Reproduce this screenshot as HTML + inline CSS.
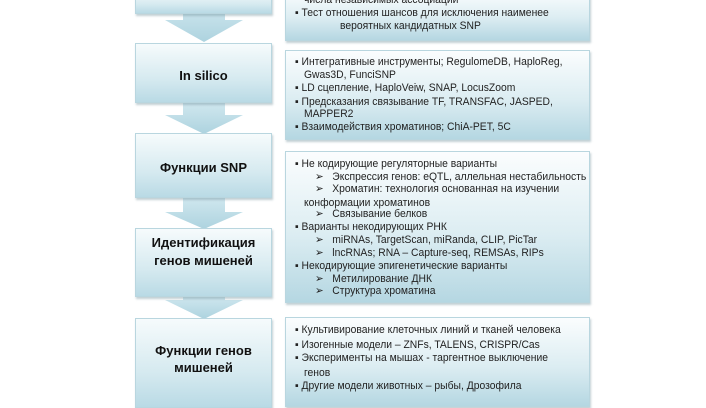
<!DOCTYPE html>
<html><head><meta charset="utf-8"><style>
body{margin:0;width:706px;height:400px;overflow:hidden;background:#fff;position:relative;font-family:"Liberation Sans","DejaVu Sans",sans-serif;}
.b{position:absolute;border:1px solid #b9d6df;box-sizing:border-box;box-shadow:1px 2px 2px rgba(120,150,160,.45);}
.l{background:linear-gradient(180deg,#f6fbfc 0%,#d6eaf0 60%,#b9dae5 100%);}
.r{background:linear-gradient(180deg,#fbfdfe 0%,#dcedf2 55%,#b5d7e2 100%);}
.t{position:absolute;font-size:11px;line-height:14px;white-space:nowrap;color:#222;transform:scaleX(0.94);transform-origin:left center;}
.lab{position:absolute;left:135px;width:137px;text-align:center;font-weight:bold;font-size:13px;line-height:16px;color:#111;}
svg{position:absolute;left:0;top:0}
</style></head><body>
<svg width="706" height="400">
<defs><linearGradient id="g" x1="0" y1="0" x2="0" y2="1"><stop offset="0" stop-color="#d3e9f0"/><stop offset="1" stop-color="#add3df"/></linearGradient></defs>
<polygon points="183,0 225,0 225,20 243,20 204,42 165,20 183,20" fill="url(#g)"/>
<polygon points="183,100 225,100 225,115 243,115 204,134 165,115 183,115" fill="url(#g)"/>
<polygon points="183,195 225,195 225,212 243,212 204,229 165,212 183,212" fill="url(#g)"/>
<polygon points="183,294 225,294 225,300 243,300 204,319 165,300 183,300" fill="url(#g)"/>
</svg>
<div class="b l" style="left:135px;top:-10px;width:137px;height:24px"></div>
<div class="b l" style="left:135px;top:43px;width:137px;height:60px"></div>
<div class="b l" style="left:135px;top:133px;width:137px;height:65px"></div>
<div class="b l" style="left:135px;top:228px;width:137px;height:69px"></div>
<div class="b l" style="left:135px;top:318px;width:137px;height:90px"></div>
<div class="lab" style="top:68px">In silico</div>
<div class="lab" style="top:160px">Функции SNP</div>
<div class="lab" style="top:235px">Идентификация</div>
<div class="lab" style="top:253px">генов мишеней</div>
<div class="lab" style="top:343px">Функции генов</div>
<div class="lab" style="top:360px">мишеней</div>

<div class="b r" style="left:285px;top:-10px;width:305px;height:51px"></div>
<div class="b r" style="left:285px;top:50px;width:305px;height:90px"></div>
<div class="b r" style="left:285px;top:151px;width:305px;height:152px"></div>
<div class="b r" style="left:285px;top:317px;width:305px;height:90px"></div>

<div class="t" style="left:304px;top:-7px">числа независимых ассоциаций</div>
<div class="t" style="left:295px;top:6px">▪ Тест отношения шансов для исключения наименее</div>
<div class="t" style="left:340px;top:19px">вероятных кандидатных SNP</div>

<div class="t" style="left:295px;top:55px">▪ Интегративные инструменты; RegulomeDB, HaploReg,</div>
<div class="t" style="left:304px;top:68px">Gwas3D, FunciSNP</div>
<div class="t" style="left:295px;top:81px">▪ LD сцепление, HaploVeiw, SNAP, LocusZoom</div>
<div class="t" style="left:295px;top:95px">▪ Предсказания связывание TF, TRANSFAC, JASPED,</div>
<div class="t" style="left:304px;top:107px">MAPPER2</div>
<div class="t" style="left:295px;top:120px">▪ Взаимодействия хроматинов; ChiA-PET, 5C</div>

<div class="t" style="left:295px;top:157px">▪ Не кодирующие регуляторные варианты</div>
<div class="t" style="left:315px;top:170px">➢&nbsp;&nbsp; Экспрессия генов: eQTL, аллельная нестабильность</div>
<div class="t" style="left:315px;top:182px">➢&nbsp;&nbsp; Хроматин: технология основанная на изучении</div>
<div class="t" style="left:304px;top:196px">конформации хроматинов</div>
<div class="t" style="left:315px;top:207px">➢&nbsp;&nbsp; Связывание белков</div>
<div class="t" style="left:295px;top:220px">▪ Варианты некодирующих РНК</div>
<div class="t" style="left:315px;top:233px">➢&nbsp;&nbsp; miRNAs, TargetScan, miRanda, CLIP, PicTar</div>
<div class="t" style="left:315px;top:246px">➢&nbsp;&nbsp; lncRNAs; RNA – Capture-seq, REMSAs, RIPs</div>
<div class="t" style="left:295px;top:259px">▪ Некодирующие эпигенетические варианты</div>
<div class="t" style="left:315px;top:272px">➢&nbsp;&nbsp; Метилирование ДНК</div>
<div class="t" style="left:315px;top:284px">➢&nbsp;&nbsp; Структура хроматина</div>

<div class="t" style="left:295px;top:323px">▪ Культивирование клеточных линий и тканей человека</div>
<div class="t" style="left:295px;top:338px">▪ Изогенные модели – ZNFs, TALENS, CRISPR/Cas</div>
<div class="t" style="left:295px;top:351px">▪ Эксперименты на мышах - таргентное выключение</div>
<div class="t" style="left:304px;top:366px">генов</div>
<div class="t" style="left:295px;top:379px">▪ Другие модели животных – рыбы, Дрозофила</div>
</body></html>
